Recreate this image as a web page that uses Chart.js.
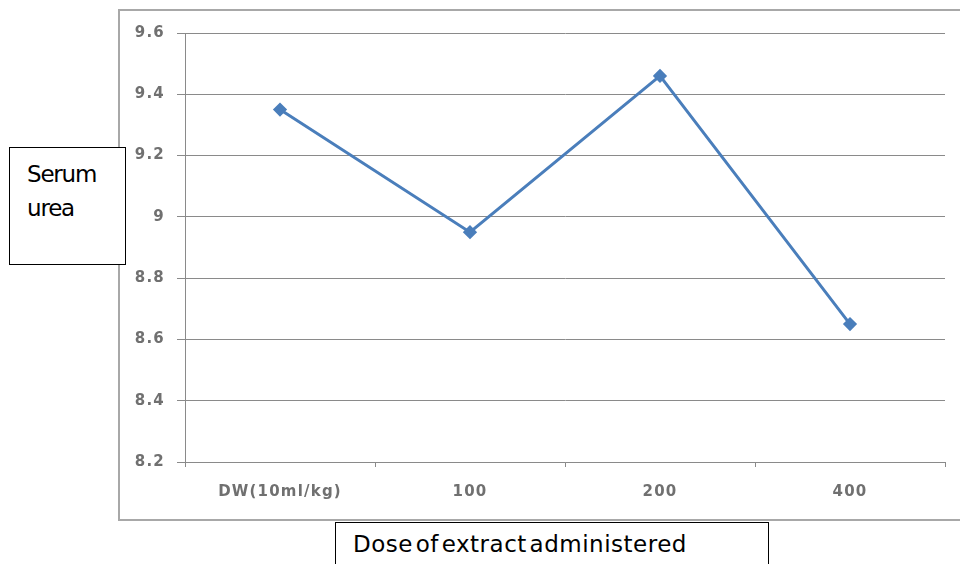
<!DOCTYPE html>
<html>
<head>
<meta charset="utf-8">
<script src="https://cdn.jsdelivr.net/npm/chart.js@4"></script>
<style>
  body { margin: 0; background: #fff; }
  #wrap { position: relative; width: 960px; height: 564px; overflow: hidden; }
  #frame { position: absolute; left: 118px; top: 9px; width: 900px; height: 508px; border: 2px solid #a8a8a8; }
  canvas { position: absolute; left: 0; top: 0; }
  .box { position: absolute; border: 1px solid #000; background: #fff; font-family: "DejaVu Sans", sans-serif; font-size: 23px; line-height: 1; color: #000; }
  .box div { position: absolute; white-space: nowrap; }
  #ybox { left: 9px; top: 147px; width: 115px; height: 116px; }
  #ybox div { left: 17px; letter-spacing: -1.2px; }
  #xbox { left: 335px; top: 522px; width: 432px; height: 60px; }
  #xbox div { left: 17px; top: 10px; letter-spacing: 0.5px; word-spacing: -5px; }
</style>
</head>
<body>
<div id="wrap">
  <div id="frame"></div>
  <canvas id="chart" width="960" height="564"></canvas>
  <div class="box" id="ybox"><div style="top:15px">Serum</div><div style="top:49px">urea</div></div>
  <div class="box" id="xbox"><div>Dose of extract administered</div></div>
</div>
<script>
// data
const doses = ['DW(10ml/kg)', '100', '200', '400'];
const ureaValues = [9.35, 8.95, 9.46, 8.65];
const yMin = 8.2;
const yMax = 9.6;

// the reference text is wide, so space the tick letters out a bit
const wideText = {
    id: 'wideText',
    beforeDraw: chart => { chart.ctx.letterSpacing = '1.2px'; }
};

const tickFont = { family: 'DejaVu Sans', size: 15, weight: 'bold' };

const ctx = document.getElementById('chart').getContext('2d');
new Chart(ctx, {
    type: 'line',
    data: {
        labels: doses,
        datasets: [{
            label: 'Serum urea',
            data: ureaValues,
            borderColor: '#4a7ebb',
            backgroundColor: '#4a7ebb',
            borderWidth: 3,
            pointStyle: 'rectRot',
            pointRadius: 5,
            tension: 0,
            fill: false
        }]
    },
    options: {
        responsive: false,
        animation: false,
        layout: { padding: { top: 33, right: 15, left: 0, bottom: 0 } },
        plugins: { legend: { display: false }, tooltip: { enabled: false } },
        scales: {
            x: {
                offset: true,
                grid: { offset: true, drawOnChartArea: false, drawTicks: true, tickLength: 5, color: '#8a8a8a' },
                border: { color: '#8a8a8a' },
                ticks: { color: '#707070', font: tickFont, padding: 16 },
                afterFit: s => { s.height = 102; }
            },
            y: {
                min: yMin,
                max: yMax,
                ticks: {
                    stepSize: 0.2,
                    color: '#707070',
                    font: tickFont,
                    padding: 12,
                    callback: v => +v.toFixed(1)
                },
                grid: { color: '#8a8a8a', tickLength: 8 },
                border: { color: '#8a8a8a' },
                afterFit: s => { s.width = 185; }
            }
        }
    },
    plugins: [wideText]
});
</script>
</body>
</html>
